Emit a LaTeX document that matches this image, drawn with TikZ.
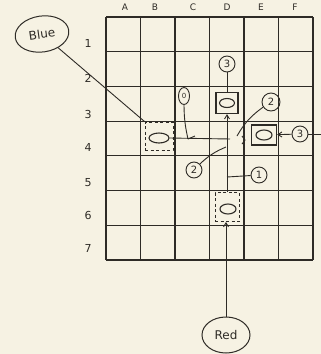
\documentclass[tikz,border=0pt]{standalone}
\usepackage{fontspec}
\setmainfont{DejaVu Sans}
\usetikzlibrary{shapes.geometric,arrows.meta}
\definecolor{ink}{HTML}{2E2B26}
\definecolor{paper}{HTML}{F6F2E3}
\begin{document}
\begin{tikzpicture}[x=1pt,y=-1pt,
  every node/.style={text=ink},
  grid/.style={draw=ink,line width=1.1pt},
  inkline/.style={draw=ink,line width=0.9pt},
  arr/.style={inkline,-{Straight Barb[length=4pt,width=5pt]}},
  tagcirc/.style={circle,draw=ink,line width=0.9pt,inner sep=0pt,minimum size=16pt,font=\fontsize{10}{10}\selectfont},
  bigoval/.style={ellipse,draw=ink,line width=1pt,inner sep=0pt,font=\fontsize{12}{12}\selectfont},
  carbox/.style={rectangle,draw=ink,line width=1.3pt,inner sep=0pt},
  dashbox/.style={rectangle,draw=ink,line width=1pt,dash pattern=on 3pt off 2.5pt,inner sep=0pt},
  car/.style={ellipse,draw=ink,line width=1.1pt,inner sep=0pt,minimum width=16pt,minimum height=10pt},
  collbl/.style={font=\fontsize{9}{9}\selectfont},
  rowlbl/.style={font=\fontsize{11}{11}\selectfont}]
\useasboundingbox[fill=paper] (0,0) rectangle (321,354);
% grid
\foreach \i in {0,...,6} \draw[grid] ({106+34.5*\i},17) -- ({106+34.5*\i},260);
\foreach \j in {0,...,7} \draw[grid] (106,{17+34.714*\j}) -- (313,{17+34.714*\j});
% column labels
\foreach \c/\x in {A/125,B/155,C/193,D/227,E/261,F/295} \node[collbl] (col\c) at (\x,7) {\c};
% row labels
\foreach \r/\y in {1/43,2/78,3/114,4/147,5/183,6/215,7/248} \node[rowlbl] (row\r) at (88,\y) {\r};
% blue
\node[bigoval,minimum width=54pt,minimum height=36pt,rotate=8] (blue) at (42,34) {Blue};
\node[dashbox,minimum width=28pt,minimum height=28pt] (bbox) at (159,136) {};
\node[car,minimum width=20pt] (bcar) at (159,138) {};
\draw[inkline] (blue) -- (bbox.north west);
\coordinate (jn) at (230,139);
\draw[inkline] (bcar.east) -- (jn);
\coordinate (chA) at (242,136); \coordinate (chB) at (245,140); \coordinate (chC) at (242,144);
\draw[inkline] (chA) -- (chB) -- (chC);
% red
\node[bigoval,minimum width=48pt,minimum height=36pt] (red) at (226,335) {Red};
\node[dashbox,minimum width=24pt,minimum height=29pt] (rbox) at (227,207) {};
\node[car] (rcar) at (228,209) {};
\draw[arr] (red.north) -- (red.north |- rbox.south);
% D3
\node[carbox,minimum width=22pt,minimum height=21pt] (dbox) at (227,103) {};
\node[car,minimum width=15pt,minimum height=9pt] (dcar) at (227,103) {};
\draw[arr] (rbox.north) -- (rbox.north |- dbox.south);
\node[tagcirc] (c3a) at (227,64) {3};
\draw[inkline] (c3a) -- (dbox);
% E4
\node[carbox,minimum width=25pt,minimum height=20pt] (ebox) at (264,135) {};
\node[car] (ecar) at (264,135) {};
\node[tagcirc] (c3b) at (300,134) {3};
\draw[arr] (c3b) -- (ebox);
\coordinate (exit) at (321,134);
\draw[inkline] (c3b) -- (exit);
% tags
\node[tagcirc,minimum size=18pt] (c2a) at (271,102) {2};
\coordinate (t2a) at (237,136);
\draw[inkline] (c2a) to[bend right=12] (t2a);
\node[ellipse,draw=ink,line width=0.9pt,inner sep=0pt,minimum width=11pt,minimum height=17pt,font=\fontsize{7}{7}\selectfont] (c0) at (184,96) {0};
\coordinate (t0) at (188,139);
\draw[inkline] (c0.south) to[bend right=6] (t0);
\coordinate (tk0) at (195,136);
\draw[inkline] (t0) -- (tk0);
\node[tagcirc] (c2b) at (194,170) {2};
\coordinate (t2b) at (226,147);
\draw[inkline] (c2b) to[bend left=10] (t2b);
\node[tagcirc] (c1) at (259,175) {1};
\coordinate (t1) at (227,177);
\draw[inkline] (c1) -- (t1);
\end{tikzpicture}
\end{document}
